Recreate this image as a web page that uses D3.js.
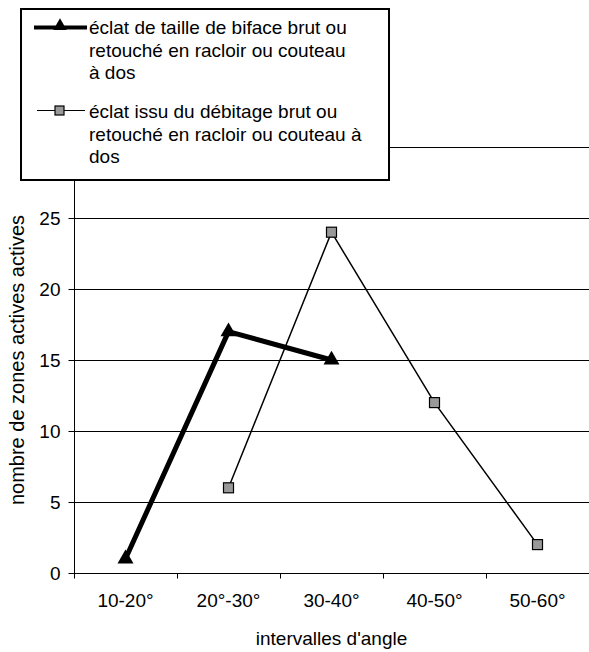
<!DOCTYPE html>
<html><head><meta charset="utf-8">
<script src="https://cdn.jsdelivr.net/npm/d3@7"></script>
<style>body{margin:0;background:#fff}svg{display:block;font-family:"Liberation Sans",Arial,sans-serif}</style>
</head><body>
<script>
const categories = ["10-20°", "20°-30°", "30-40°", "40-50°", "50-60°"];
const seriesBiface = [1, 17, 15, null, null];
const seriesDebitage = [null, 6, 24, 12, 2];
const yTicks = [0, 5, 10, 15, 20, 25, 30];
const legendBiface = ["éclat de taille de biface brut ou", "retouché en racloir  ou couteau", "à dos"];
const legendDebitage = ["éclat issu du débitage brut ou", "retouché en racloir ou couteau à", "dos"];

const W = 589, H = 652, FS = 19;
const FF = "Liberation Sans, Arial, sans-serif";
const m = {left: 74, right: 0, top: 147, bottom: 79};
const svg = d3.select("body").append("svg").attr("width", W).attr("height", H);

const x = d3.scaleBand().domain(categories).range([m.left, W - m.right]);
const y = d3.scaleLinear().domain([0, 30]).range([H - m.bottom, m.top]);

// gridlines
svg.append("g").selectAll("line").data(yTicks.filter(d => d > 0)).join("line")
  .attr("x1", m.left).attr("x2", W).attr("y1", d => Math.round(y(d)) + 0.5).attr("y2", d => Math.round(y(d)) + 0.5)
  .attr("stroke", "#000").attr("stroke-width", 1);

// y axis
const ya = svg.append("g").attr("transform", `translate(${m.left + 0.5},0)`)
  .call(d3.axisLeft(y).tickValues(yTicks).tickSize(6).tickPadding(8).tickFormat(d3.format("d")));
ya.selectAll("text").attr("font-size", FS).attr("fill", "#000").attr("font-family", FF);
ya.selectAll("line,path").attr("stroke", "#000");
ya.select(".domain").attr("d", `M0,${y(30)}V${Math.round(y(0))+0.5}`);

// x axis
const xa = svg.append("g").attr("transform", `translate(0,${Math.round(y(0)) + 0.5})`)
  .call(d3.axisBottom(x).tickSize(0).tickPadding(20));
xa.selectAll("text").attr("font-size", FS).attr("fill", "#000").attr("font-family", FF);
xa.select(".domain").attr("d", `M${m.left},0H${W}`).attr("stroke", "#000");
xa.append("g").selectAll("line").data(categories).join("line")
  .attr("x1", d => Math.round(x(d)) + 0.5).attr("x2", d => Math.round(x(d)) + 0.5)
  .attr("y1", 0).attr("y2", 5).attr("stroke", "#000");

const cx = d => x(d) + x.bandwidth() / 2;

// series 2 (debitage)
const d2 = categories.map((c, i) => ({c, v: seriesDebitage[i]})).filter(d => d.v != null);
svg.append("path").datum(d2)
  .attr("d", d3.line().x(d => cx(d.c)).y(d => y(d.v)))
  .attr("fill", "none").attr("stroke", "#000").attr("stroke-width", 1.5);
svg.append("g").selectAll("rect").data(d2).join("rect")
  .attr("x", d => cx(d.c) - 5).attr("y", d => y(d.v) - 5).attr("width", 10).attr("height", 10)
  .attr("fill", "#999").attr("stroke", "#000").attr("stroke-width", 1.2);

// series 1 (biface)
const d1 = categories.map((c, i) => ({c, v: seriesBiface[i]})).filter(d => d.v != null);
svg.append("path").datum(d1)
  .attr("d", d3.line().x(d => cx(d.c)).y(d => y(d.v)))
  .attr("fill", "none").attr("stroke", "#000").attr("stroke-width", 5).attr("stroke-linejoin", "round");
const tri = d3.symbol().type(d3.symbolTriangle).size(110);
svg.append("g").selectAll("path").data(d1).join("path")
  .attr("transform", d => `translate(${cx(d.c)},${y(d.v)})`).attr("d", tri).attr("fill", "#000");

// axis titles
svg.append("text").attr("x", (m.left + W) / 2).attr("y", 645).attr("text-anchor", "middle")
  .attr("font-size", FS).text("intervalles d'angle");
svg.append("text").attr("transform", `translate(24,${(y(0) + y(30)) / 2}) rotate(-90)`).attr("text-anchor", "middle")
  .attr("font-size", 20).text("nombre de zones actives actives");

// legend
const lg = svg.append("g");
lg.append("rect").attr("x", 21).attr("y", 9).attr("width", 368).attr("height", 171)
  .attr("fill", "#fff").attr("stroke", "#000").attr("stroke-width", 2);
legendBiface.forEach((t, i) => lg.append("text").attr("x", 89).attr("y", 34 + i * 22.5).attr("font-size", FS).text(t));
legendDebitage.forEach((t, i) => lg.append("text").attr("x", 89).attr("y", 118 + i * 22.5).attr("font-size", FS).text(t));
lg.append("line").attr("x1", 34).attr("x2", 87).attr("y1", 27.5).attr("y2", 27.5).attr("stroke", "#000").attr("stroke-width", 4);
lg.append("path").attr("transform", "translate(60,26)").attr("d", d3.symbol().type(d3.symbolTriangle).size(80)).attr("fill", "#000");
lg.append("line").attr("x1", 37).attr("x2", 85).attr("y1", 110.5).attr("y2", 110.5).attr("stroke", "#000").attr("stroke-width", 1.2);
lg.append("rect").attr("x", 55).attr("y", 106).attr("width", 9).attr("height", 9).attr("fill", "#999").attr("stroke", "#000").attr("stroke-width", 1.2);
</script>
</body></html>
